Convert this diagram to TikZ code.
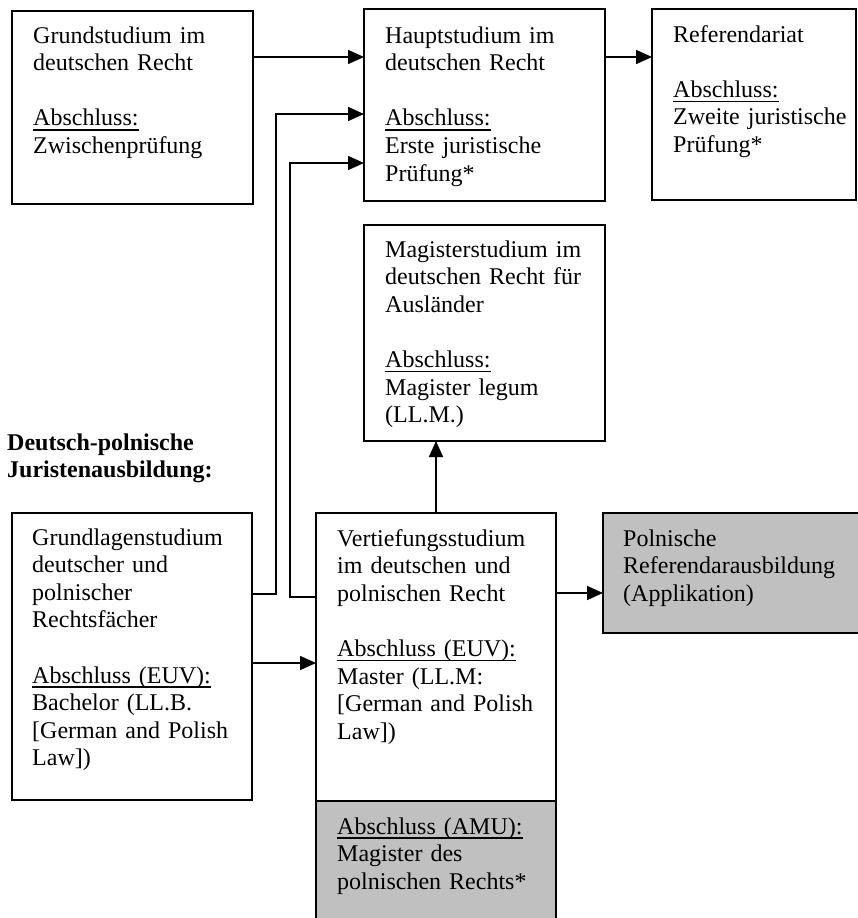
\documentclass[tikz,border=0pt]{standalone}
\usepackage{fontspec}
\setmainfont{Liberation Serif}
\usetikzlibrary{arrows.meta}
\newcommand\ulx[1]{\leavevmode\setbox0\hbox{#1}\rlap{\rule[-5pt]{\wd0}{1.6pt}}\box0}
\definecolor{boxgray}{HTML}{C0C0C0}
\begin{document}
\begin{tikzpicture}[x=1pt,y=-1pt,
  box/.style={draw=black, line width=1.5pt, anchor=north west, inner sep=0pt, outer sep=0pt},
  txt/.style={anchor=base west, inner sep=0pt, text width=230pt, align=left,
              font=\fontsize{24}{27.6}\selectfont},
  arr/.style={line width=1.6pt, -{Triangle[length=16pt,width=14pt]}},
  ln/.style={line width=1.5pt}]
\useasboundingbox (0,0) rectangle (857,918);
% boxes
\node[box, minimum width=241pt, minimum height=193pt] (b1) at (12,11) {};
\node[box, minimum width=241pt, minimum height=192pt] (b2) at (364,9) {};
\node[box, minimum width=204pt, minimum height=191pt] (b3) at (652,9) {};
\node[box, minimum width=241pt, minimum height=216pt] (mag) at (364,225) {};
\node[box, minimum width=240pt, minimum height=287pt] (gl) at (12,513) {};
\node[box, minimum width=240pt, minimum height=420pt] (vt) at (316,513) {};
\node[box, fill=boxgray, minimum width=240pt, minimum height=132pt] (amu) at (316,801) {};
\node[box, fill=boxgray, minimum width=270pt, minimum height=120pt] (pol) at (603,513) {};
% texts
\node[txt] (t1) at (33,43) {Grundstudium im\\deutschen Recht\\[27.6pt]\ulx{Abschluss:}\\Zwischenprüfung};
\node[txt] (t2) at (385,43) {Hauptstudium im\\deutschen Recht\\[27.6pt]\ulx{Abschluss:}\\Erste juristische\\Prüfung*};
\node[txt] (t3) at (673,42) {Referendariat\\[27.6pt]\ulx{Abschluss:}\\Zweite juristische\\Prüfung*};
\node[txt] (tm) at (385,257) {Magisterstudium im\\deutschen Recht für\\Ausländer\\[27.6pt]\ulx{Abschluss:}\\Magister legum\\(LL.M.)};
\node[txt, font=\fontsize{24}{27.6}\selectfont\bfseries] (tl) at (7,450) {Deutsch-polnische\\Juristenausbildung:};
\node[txt] (tg) at (32,545) {Grundlagenstudium\\deutscher und\\polnischer\\Rechtsfächer\\[27.6pt]\ulx{Abschluss (EUV):}\\Bachelor (LL.B.\\{[German and Polish}\\Law])};
\node[txt] (tv) at (337,546) {Vertiefungsstudium\\im deutschen und\\polnischen Recht\\[27.6pt]\ulx{Abschluss (EUV):}\\Master (LL.M:\\{[German and Polish}\\Law])};
\node[txt] (ta) at (337,834) {\ulx{Abschluss (AMU):}\\Magister des\\polnischen Rechts*};
\node[txt] (tp) at (623,546) {Polnische\\Referendarausbildung\\(Applikation)};
% connectors
\draw[arr] (b1.east |- 0,57) -- (b2.west |- 0,57);
\draw[arr] (b2.east |- 0,57) -- (b3.west |- 0,57);
\draw[arr] (gl.east |- 0,594) -| (276,114) -- (b2.west |- 0,114);
\draw[arr] (vt.west |- 0,597) -| (290,163) -- (b2.west |- 0,163);
\draw[arr] (gl.east |- 0,663) -- (vt.west |- 0,663);
\draw[arr] (vt.north) -- (vt.north |- mag.south);
\draw[arr] (vt.east |- 0,593) -- (pol.west |- 0,593);
\end{tikzpicture}
\end{document}
